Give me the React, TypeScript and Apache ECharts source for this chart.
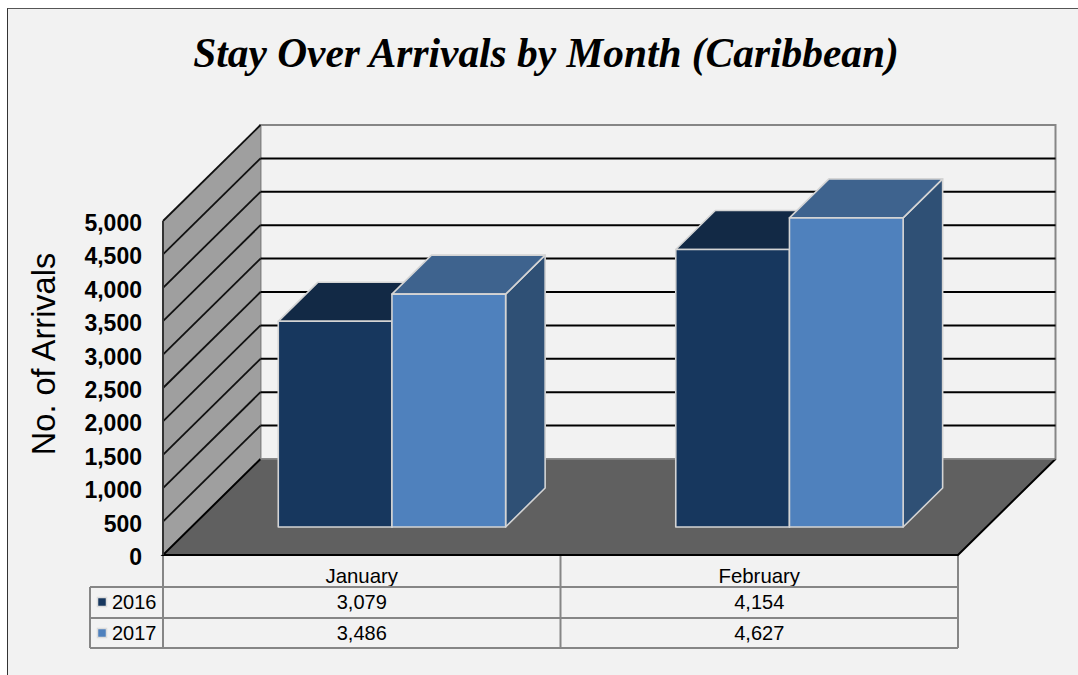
import React, { useEffect, useRef } from "react";
import * as echarts from "echarts";

const categories = ["January", "February"];
const seriesNames = ["2016", "2017"];
const values2016 = [3079, 4154];
const values2017 = [3486, 4627];
const tableRows2016 = ["3,079", "4,154"];
const tableRows2017 = ["3,486", "4,627"];
const yTicks = [0, 500, 1000, 1500, 2000, 2500, 3000, 3500, 4000, 4500, 5000];

const GRID = { left: 163, top: 221, width: 795, height: 334 };
const WALL_DX = 97.5;
const WALL_DY = 96;
const BAR_DX = 30.2;
const BAR_DY = 28;
const BAR_DEPTH_X = 39.5;
const BAR_DEPTH_Y = 39;
const BAR_RATIO = 0.286;
const FONT = "'Liberation Sans', Arial, sans-serif";

const wallsRender = (params: any, api: any) => {
  const cs = params.coordSys;
  const L = cs.x;
  const R = cs.x + cs.width;
  const y0 = api.coord([0, 0])[1];
  const yTop = api.coord([0, 5000])[1];
  const children: any[] = [
    {
      type: "polygon",
      shape: { points: [[L + WALL_DX, yTop - WALL_DY], [R + WALL_DX, yTop - WALL_DY], [R + WALL_DX, y0 - WALL_DY], [L + WALL_DX, y0 - WALL_DY]] },
      style: { fill: "#f2f2f2", stroke: "#868686", lineWidth: 2 },
    },
    {
      type: "polygon",
      shape: { points: [[L, yTop], [L + WALL_DX, yTop - WALL_DY], [L + WALL_DX, y0 - WALL_DY], [L, y0]] },
      style: { fill: "#9f9f9f", stroke: "#868686", lineWidth: 1 },
    },
  ];
  yTicks.forEach((t) => {
    const y = api.coord([0, t])[1];
    if (t > 0 && t < 5000) {
      children.push({
        type: "line",
        shape: { x1: L + WALL_DX, y1: y - WALL_DY, x2: R + WALL_DX, y2: y - WALL_DY },
        style: { stroke: "#000", lineWidth: 2 },
      });
    }
    if (t > 0) {
      children.push({
        type: "line",
        shape: { x1: L, y1: y, x2: L + WALL_DX, y2: y - WALL_DY },
        style: { stroke: "#111", lineWidth: 1.8 },
      });
    }
  });
  children.push({
    type: "polygon",
    shape: { points: [[L, y0], [L + WALL_DX, y0 - WALL_DY], [R + WALL_DX, y0 - WALL_DY], [R, y0]] },
    style: { fill: "#606060", stroke: "none" },
  });
  children.push({
    type: "polyline",
    shape: { points: [[L + WALL_DX, y0 - WALL_DY], [L, y0], [R, y0], [R + WALL_DX, y0 - WALL_DY]] },
    style: { fill: "none", stroke: "#000", lineWidth: 2 },
  });
  children.push({
    type: "line",
    shape: { x1: L + WALL_DX, y1: y0 - WALL_DY, x2: R + WALL_DX, y2: y0 - WALL_DY },
    style: { stroke: "#8a8a8a", lineWidth: 1.5 },
  });
  children.push({
    type: "line",
    shape: { x1: L, y1: yTop, x2: L, y2: y0 },
    style: { stroke: "#333", lineWidth: 2 },
  });
  return { type: "group", children };
};

const makeBarRender = (seriesOffset: number, front: string, top: string, side: string) => (_p: any, api: any) => {
  const cat = api.value(0);
  const val = api.value(1);
  const center = api.coord([cat, 0])[0];
  const y0 = api.coord([cat, 0])[1] - BAR_DY;
  const yV = api.coord([cat, val])[1] - BAR_DY;
  const w = api.size([1, 0])[0] * BAR_RATIO;
  const x1 = center + BAR_DX + seriesOffset * w;
  const x2 = x1 + w;
  const stroke = "#d4d4d4";
  const style = (fill: string) => ({ fill, stroke, lineWidth: 1.6, lineJoin: "round" });
  return {
    type: "group",
    children: [
      {
        type: "polygon",
        shape: { points: [[x2, yV], [x2 + BAR_DEPTH_X, yV - BAR_DEPTH_Y], [x2 + BAR_DEPTH_X, y0 - BAR_DEPTH_Y], [x2, y0]] },
        style: style(side),
      },
      {
        type: "polygon",
        shape: { points: [[x1, yV], [x1 + BAR_DEPTH_X, yV - BAR_DEPTH_Y], [x2 + BAR_DEPTH_X, yV - BAR_DEPTH_Y], [x2, yV]] },
        style: style(top),
      },
      {
        type: "polygon",
        shape: { points: [[x1, yV], [x2, yV], [x2, y0], [x1, y0]] },
        style: style(front),
      },
    ],
  };
};

export default function App() {
  const ref = useRef<HTMLDivElement>(null);
  useEffect(() => {
    document.body.style.margin = "0";
    const chart = echarts.init(ref.current!, undefined, { renderer: "svg" });
    const L = GRID.left;
    const M = GRID.left + GRID.width / 2;
    const R = GRID.left + GRID.width;
    const yBase = GRID.top + GRID.height;
    const LEG = 90;
    const r1 = 587;
    const r2 = 618;
    const r3 = 648;
    const tableLine = { stroke: "#868686", lineWidth: 2 };
    const hline = (x1: number, x2: number, y: number) => ({ type: "line", z: 1, shape: { x1, y1: y, x2, y2: y }, style: tableLine });
    const vline = (x: number, y1: number, y2: number) => ({ type: "line", z: 1, shape: { x1: x, y1, x2: x, y2 }, style: tableLine });
    const cell = (text: string, x: number, y: number, align = "center") => ({
      type: "text",
      z: 3,
      x,
      y,
      style: { text, fill: "#000", font: `20px ${FONT}`, align, verticalAlign: "middle" },
    });
    const swatch = (y: number, fill: string) => ({
      type: "rect",
      z: 3,
      shape: { x: 97.5, y, width: 9, height: 9 },
      style: { fill, stroke: "#dcdcdc", lineWidth: 1.5 },
    });
    chart.setOption({
      animation: false,
      backgroundColor: "transparent",
      title: {
        text: "Stay Over Arrivals by Month (Caribbean)",
        left: 541,
        top: 27,
        textAlign: "center",
        textStyle: { fontFamily: "'Liberation Serif', 'Times New Roman', serif", fontSize: 41.4, fontWeight: "bold", fontStyle: "italic", color: "#000" },
      },
      grid: { ...GRID, containLabel: false },
      xAxis: {
        type: "category",
        data: categories,
        axisTick: { show: false },
        axisLine: { show: false },
        axisLabel: { margin: 11, color: "#000", fontFamily: FONT, fontSize: 20.4 },
        splitLine: { show: false },
      },
      yAxis: {
        type: "value",
        min: 0,
        max: 5000,
        interval: 500,
        axisLine: { show: false },
        axisTick: { show: false },
        splitLine: { show: false },
        axisLabel: {
          margin: 21,
          color: "#000",
          formatter: (v: number) => `{t|${v.toLocaleString("en-US")}}`,
          rich: {
            t: { fontFamily: FONT, fontSize: 23, fontWeight: "bold", color: "#000", padding: [4, 0, 0, 0] },
          },
        },
      },
      series: [
        { type: "custom", name: "walls", silent: true, clip: false, z: 1, data: [[0, 0]], encode: { x: 0, y: 1 }, renderItem: wallsRender },
        {
          type: "custom",
          name: seriesNames[0],
          clip: false,
          z: 2,
          encode: { x: 0, y: 1 },
          data: values2016.map((v, i) => [i, v]),
          renderItem: makeBarRender(-1, "#17375e", "#122945", "#122945"),
        },
        {
          type: "custom",
          name: seriesNames[1],
          clip: false,
          z: 3,
          encode: { x: 0, y: 1 },
          data: values2017.map((v, i) => [i, v]),
          renderItem: makeBarRender(0, "#4f81bd", "#3e638e", "#2f5075"),
        },
      ],
      graphic: [
        {
          type: "text",
          z: 3,
          x: 43.5,
          y: 354,
          rotation: Math.PI / 2,
          style: { text: "No. of Arrivals", fill: "#000", font: `32.5px ${FONT}`, align: "center", verticalAlign: "middle" },
        },
        vline(L, yBase, r3),
        vline(M, yBase, r3),
        vline(R, yBase, r3),
        vline(LEG, r1, r3),
        hline(LEG, R, r1),
        hline(LEG, R, r2),
        hline(LEG, R, r3),
        swatch(597.5, "#17375e"),
        swatch(628.5, "#4f81bd"),
        cell(seriesNames[0], 112, 601.5, "left"),
        cell(seriesNames[1], 112, 632.5, "left"),
        cell(tableRows2016[0], (L + M) / 2, 601.5),
        cell(tableRows2016[1], (M + R) / 2, 601.5),
        cell(tableRows2017[0], (L + M) / 2, 632.5),
        cell(tableRows2017[1], (M + R) / 2, 632.5),
      ],
    });
    return () => chart.dispose();
  }, []);
  return (
    <div style={{ position: "relative", width: 1078, height: 675, background: "#fff", overflow: "hidden" }}>
      <div
        style={{
          position: "absolute",
          left: 7,
          top: 8,
          width: 1080,
          height: 680,
          background: "#f2f2f2",
          borderLeft: "1.5px solid #333",
          borderTop: "1.5px solid #555",
        }}
      />
      <div ref={ref} style={{ position: "absolute", left: 0, top: 0, width: 1078, height: 675 }} />
    </div>
  );
}
